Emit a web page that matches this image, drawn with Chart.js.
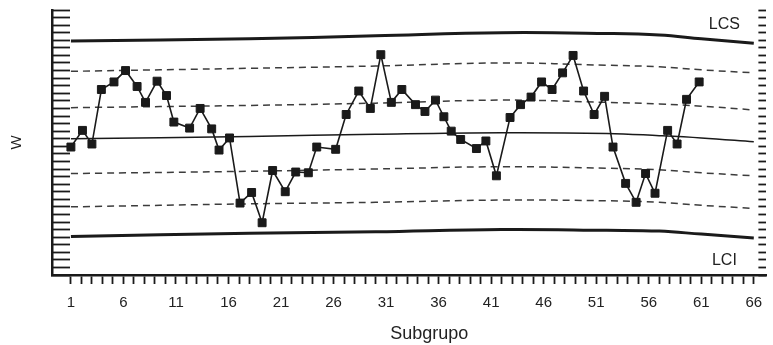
<!DOCTYPE html>
<html>
<head>
<meta charset="utf-8">
<script src="https://cdn.jsdelivr.net/npm/chart.js@4"></script>
<style>
  html, body { margin: 0; padding: 0; background: #fff; }
  #wrap { width: 773px; height: 345px; }
</style>
</head>
<body>
<div id="wrap"><canvas id="chart" width="773" height="345"></canvas></div>
<script>
// W chart by subgroup
const subgroups = [1.0, 2.1, 3.0, 3.9, 5.1, 6.2, 7.3, 8.1, 9.2, 10.1, 10.8, 12.3, 13.3, 14.4, 15.1, 16.1, 17.1, 18.2, 19.2, 20.2,
  21.4, 22.4, 23.6, 24.4, 26.2, 27.2, 28.4, 29.5, 30.5, 31.5, 32.5, 33.8, 34.7, 35.7, 36.5, 37.2, 38.1, 39.6, 40.5, 41.5,
  42.8, 43.8, 44.8, 45.8, 46.8, 47.8, 48.8, 49.8, 50.8, 51.8, 52.6, 53.8, 54.8, 55.7, 56.6, 57.8, 58.7, 59.6, 60.8];
const wValues = [16.9, 19.1, 17.3, 24.5, 25.5, 27.0, 24.9, 22.8, 25.6, 23.7, 20.2, 19.4, 22.0, 19.3, 16.5, 18.1, 9.5, 10.9, 6.9, 13.8,
  11.0, 13.6, 13.5, 16.9, 16.6, 21.2, 24.3, 22.0, 29.1, 22.8, 24.5, 22.5, 21.6, 23.1, 20.9, 19.0, 17.9, 16.7, 17.7, 13.1,
  20.8, 22.5, 23.5, 25.5, 24.5, 26.7, 29.0, 24.3, 21.2, 23.6, 16.9, 12.1, 9.6, 13.4, 10.8, 19.1, 17.3, 23.2, 25.5];

// control limits (slightly bowed in the scan)
const limitX   = [1, 18, 30, 42, 52, 57, 61, 66];
const lcs      = [30.9, 31.2, 31.6, 32.0, 31.9, 31.7, 31.2, 30.6];
const upper2   = [26.9, 27.3, 27.6, 28.0, 27.7, 27.5, 27.1, 26.7];
const upper1   = [22.1, 22.4, 22.7, 23.1, 22.8, 22.6, 22.3, 21.8];
const center   = [18.0, 18.3, 18.6, 18.8, 18.7, 18.4, 18.1, 17.6];
const lower1   = [13.4, 13.7, 14.0, 14.3, 14.1, 13.9, 13.5, 13.1];
const lower2   = [9.0, 9.4, 9.6, 9.9, 9.8, 9.6, 9.2, 8.8];
const lci      = [5.1, 5.5, 5.7, 6.0, 5.9, 5.8, 5.4, 4.9];

const xTickMarks = Array.from({length: 66}, (_, i) => i + 1);
const xTickLabels = [1, 6, 11, 16, 21, 26, 31, 36, 41, 46, 51, 56, 61, 66];
const limitTags = [
  {text: 'LCS', x: 63.2, y: 33.1},
  {text: 'LCI', x: 63.2, y: 1.9}
];

const INK = '#1a1a1a';
const DASH = '#3c3c3c';
const pts = (xs, ys) => xs.map((x, i) => ({x, y: ys[i]}));

function limitLine(label, ys, width, dash, color) {
  return {
    label, data: pts(limitX, ys),
    borderColor: color || INK, borderWidth: width, borderDash: dash || [],
    pointRadius: 0, tension: 0.4, fill: false
  };
}

const tagPlugin = {
  id: 'limitTags',
  afterDatasetsDraw(chart) {
    const {ctx, scales: {x, y}} = chart;
    ctx.save();
    ctx.fillStyle = '#222';
    ctx.font = "16px 'Liberation Sans', Arial, sans-serif";
    ctx.textAlign = 'center';
    ctx.textBaseline = 'middle';
    limitTags.forEach(t => ctx.fillText(t.text, x.getPixelForValue(t.x), y.getPixelForValue(t.y)));
    ctx.restore();
  }
};

Chart.defaults.font.family = "'Liberation Sans', Arial, sans-serif";
Chart.defaults.color = '#222';

new Chart(document.getElementById('chart').getContext('2d'), {
  type: 'line',
  data: {
    datasets: [
      {
        label: 'W', data: pts(subgroups, wValues),
        borderColor: INK, borderWidth: 1.6, tension: 0,
        pointStyle: 'rect', pointRadius: 5.6, pointBackgroundColor: INK, pointBorderColor: INK, pointBorderWidth: 1
      },
      limitLine('LCS', lcs, 3),
      limitLine('+2s', upper2, 1.5, [7, 5], DASH),
      limitLine('+1s', upper1, 1.5, [7, 5], DASH),
      limitLine('LC', center, 1.5),
      limitLine('-1s', lower1, 1.5, [7, 5], DASH),
      limitLine('-2s', lower2, 1.5, [7, 5], DASH),
      limitLine('LCI', lci, 3)
    ]
  },
  options: {
    responsive: false,
    animation: false,
    layout: {padding: {top: 10, right: 0, bottom: 0, left: 0}},
    plugins: {legend: {display: false}, tooltip: {enabled: false}},
    scales: {
      x: {
        type: 'linear', position: 'bottom', min: -0.8, max: 67.2,
        afterBuildTicks: axis => { axis.ticks = xTickMarks.map(v => ({value: v})); },
        afterFit: axis => { axis.height = 70; },
        border: {display: true, color: INK, width: 2.5},
        grid: {drawOnChartArea: false, drawTicks: true, tickLength: 9, tickWidth: 1.8, tickColor: INK},
        ticks: {
          autoSkip: false, maxRotation: 0, padding: 10, color: '#222',
          font: {size: 15},
          callback: v => xTickLabels.includes(v) ? String(v) : ''
        },
        title: {display: true, text: '        Subgrupo', color: '#222', font: {size: 18}, padding: {top: 0, bottom: 0}}
      },
      y: {
        type: 'linear', position: 'left', min: 0, max: 35,
        afterFit: axis => { axis.width = 52; },
        border: {display: true, color: INK, width: 2.5},
        grid: {drawOnChartArea: false, drawTicks: true, tickLength: -18, tickWidth: 1.8, tickColor: INK},
        ticks: {display: false, stepSize: 1},
        title: {display: true, text: 'W', color: '#222', font: {size: 15}, padding: {top: 8, bottom: 0}}
      },
      y2: {
        type: 'linear', position: 'right', min: 0, max: 35,
        afterFit: axis => { axis.width = 0; },
        border: {display: false},
        grid: {drawOnChartArea: false, drawTicks: true, tickLength: -8, tickWidth: 1.8, tickColor: INK},
        ticks: {display: false, stepSize: 1}
      }
    }
  },
  plugins: [tagPlugin]
});
</script>
</body>
</html>
